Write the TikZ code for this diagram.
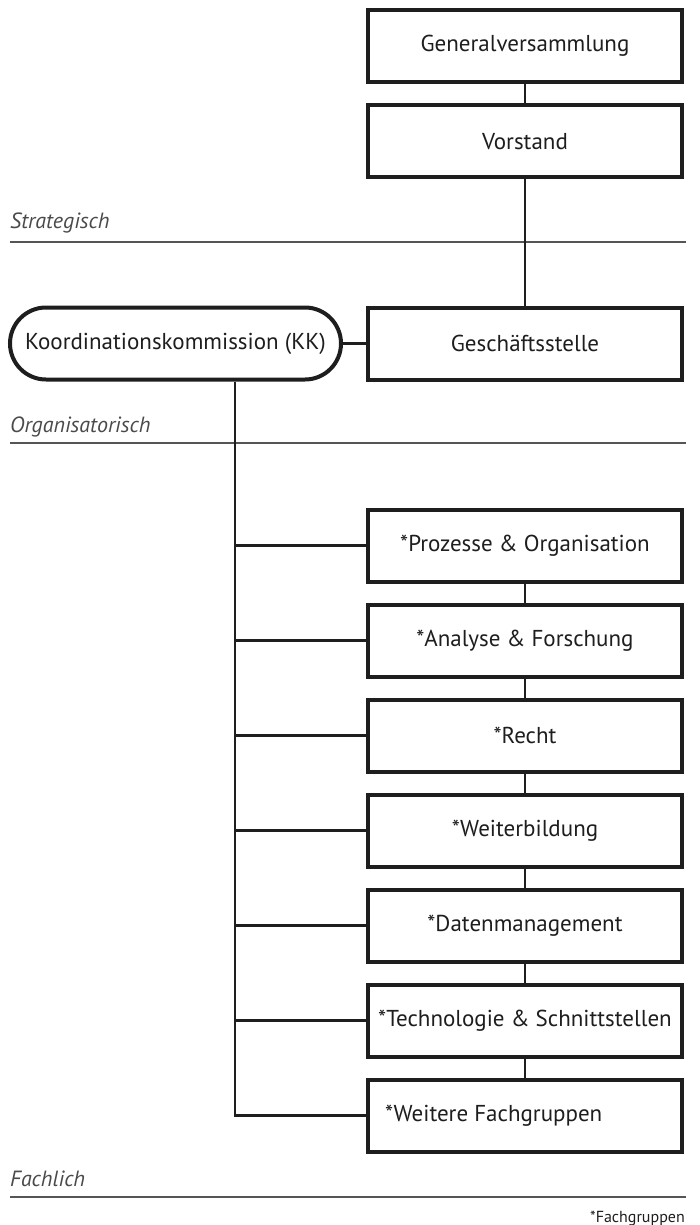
\documentclass[tikz,border=0pt]{standalone}
\usepackage{fontspec}
\setmainfont{PT Sans}
\newfontfamily\boxfont{PT Sans}
\usetikzlibrary{calc}
\definecolor{ink}{HTML}{1E1E1E}
\definecolor{sep}{HTML}{555555}
\definecolor{labgray}{HTML}{4A4A4A}
\begin{document}
\begin{tikzpicture}[x=1pt,y=-1pt,
  orgbox/.style={draw=ink, line width=4pt, fill=white, minimum width=314pt, minimum height=72pt, inner sep=0pt, font=\boxfont\fontsize{23}{26}\selectfont, text=ink},
  kkbox/.style={orgbox, rounded corners=36pt, minimum width=331pt},
  conn/.style={draw=ink, line width=2.5pt},
  seprule/.style={draw=sep, line width=1.5pt},
  lab/.style={anchor=west, inner sep=0pt, text=labgray, font=\boxfont\itshape\fontsize{22}{25}\selectfont},
]
\useasboundingbox (0,0) rectangle (699,1225);
% separators
\node[lab] (ls) at (10,223) {Strategisch};
\node[lab] (lo) at (10,427) {Organisatorisch};
\node[lab] (lf) at (10,1179) {Fachlich};
\coordinate (s1a) at (10,242); \coordinate (s1b) at (686,242);
\coordinate (s2a) at (10,443); \coordinate (s2b) at (686,443);
\coordinate (s3a) at (10,1197); \coordinate (s3b) at (686,1197);
\draw[seprule] (s1a) -- (s1b);
\draw[seprule] (s2a) -- (s2b);
\draw[seprule] (s3a) -- (s3b);
% top boxes
\node[orgbox] (gv) at (525,46) {Generalversammlung};
\node[orgbox] (vs) at (525,141.5) {Vorstand};
\node[orgbox] (gs) at (525,343.5) {Geschäftsstelle};
\node[kkbox] (kk) at (175.5,343.5) {Koordinationskommission (KK)};
% fachgruppen
\node[orgbox] (f1) at (525,545.5) {*Prozesse \& Organisation};
\node[orgbox] (f2) at (525,640.5) {*Analyse \& Forschung};
\node[orgbox] (f3) at (525,735.5) {*Recht};
\node[orgbox] (f4) at (525,830.5) {*Weiterbildung};
\node[orgbox] (f5) at (525,925.5) {*Datenmanagement};
\node[orgbox] (f6) at (525,1020.5) {*Technologie \& Schnittstellen};
\node[orgbox] (f7) at (525,1115.5) {};
\node[anchor=west, inner sep=0pt, text=ink, font=\boxfont\fontsize{23}{26}\selectfont] (f7t) at (385,1115.5) {*Weitere Fachgruppen};
\coordinate (bus) at (235,1115.5);
% connectors
\draw[conn] (gv.south) -- (vs.north);
\draw[conn] (vs.south) -- (gs.north);
\draw[conn] (kk.east) -- (gs.west);
\draw[conn] (f1.south) -- (f2.north);
\draw[conn] (f2.south) -- (f3.north);
\draw[conn] (f3.south) -- (f4.north);
\draw[conn] (f4.south) -- (f5.north);
\draw[conn] (f5.south) -- (f6.north);
\draw[conn] (f6.south) -- (f7.north);
\draw[conn] (kk.south -| bus) -- (bus) -- (f7.west);
\foreach \f in {f1,f2,f3,f4,f5,f6}{
  \draw[conn] (\f.west -| bus) -- (\f.west);
}
% footnote
\node[anchor=east, inner sep=0pt, text=ink, font=\boxfont\fontsize{16}{19}\selectfont] (fn) at (685,1218) {*Fachgruppen};
\end{tikzpicture}
\end{document}
